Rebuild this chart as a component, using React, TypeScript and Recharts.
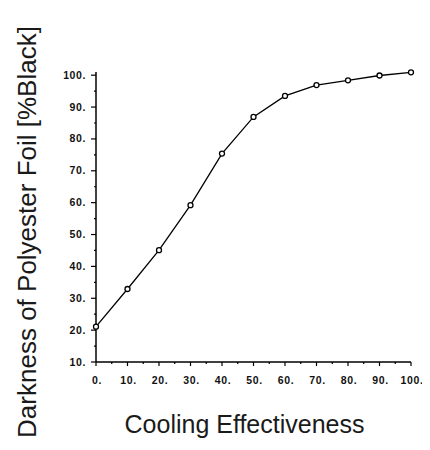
import { LineChart, Line, XAxis, YAxis, Label } from "recharts";

const effectiveness = [0, 10, 20, 30, 40, 50, 60, 70, 80, 90, 100];
const darkness = [21.1, 32.9, 45.1, 59.2, 75.4, 86.9, 93.5, 96.9, 98.4, 99.9, 100.9];
const xTicks = [0, 5, 10, 15, 20, 25, 30, 35, 40, 45, 50, 55, 60, 65, 70, 75, 80, 85, 90, 95, 100];
const yTicks = [10, 15, 20, 25, 30, 35, 40, 45, 50, 55, 60, 65, 70, 75, 80, 85, 90, 95, 100];

const data = effectiveness.map((x, i) => ({ x, y: darkness[i] }));

const FONT = "'Liberation Sans', Arial, Helvetica, sans-serif";

function XTick(props: any) {
  const { x, y, payload } = props;
  const major = payload.value % 10 === 0;
  return (
    <g>
      <line x1={x} y1={y} x2={x} y2={y + (major ? 4 : 2)} stroke="#000" strokeWidth={1.2} />
      {major && (
        <text
          x={x + 1}
          y={y + 22}
          textAnchor="middle"
          fontFamily={FONT}
          fontWeight="bold"
          fontSize={10.5}
          letterSpacing={0.6}
          fill="#111"
        >
          {payload.value + "."}
        </text>
      )}
    </g>
  );
}

function YTick(props: any) {
  const { x, y, payload } = props;
  const major = payload.value % 10 === 0;
  return (
    <g>
      <line x1={x} y1={y} x2={x - (major ? 5 : 2)} y2={y} stroke="#000" strokeWidth={1.2} />
      {major && (
        <text
          x={x - 10}
          y={y + 3.5}
          textAnchor="end"
          fontFamily={FONT}
          fontWeight="bold"
          fontSize={10.5}
          letterSpacing={0.6}
          fill="#111"
        >
          {payload.value + "."}
        </text>
      )}
    </g>
  );
}

export default function App() {
  return (
    <LineChart
      width={422}
      height={442}
      data={data}
      margin={{ top: 64, right: 19, left: 0, bottom: 0 }}
      style={{ background: "#fff" }}
    >
      <XAxis
        dataKey="x"
        type="number"
        domain={[0, 100]}
        ticks={xTicks}
        interval={0}
        height={88}
        tickSize={0}
        tickMargin={0}
        tickLine={false}
        tick={<XTick />}
        axisLine={{ stroke: "#000", strokeWidth: 1.5 }}
      >
        <Label
          content={(p: any) => (
            <text
              x={p.viewBox.x + p.viewBox.width / 2 - 9}
              y={p.viewBox.y + 71}
              textAnchor="middle"
              fontFamily={FONT}
              fontSize={25}
              fill="#1a1a1a"
            >
              Cooling Effectiveness
            </text>
          )}
        />
      </XAxis>
      <YAxis
        type="number"
        domain={[10, 101]}
        ticks={yTicks}
        interval={0}
        width={88}
        tickSize={0}
        tickMargin={0}
        tickLine={false}
        tick={<YTick />}
        axisLine={{ stroke: "#000", strokeWidth: 1.5 }}
      >
        <Label
          content={(p: any) => {
            const cx = 28;
            const cy = p.viewBox.y + p.viewBox.height / 2 + 15;
            return (
              <text
                x={cx}
                y={cy}
                transform={`rotate(-90, ${cx}, ${cy})`}
                textAnchor="middle"
                fontFamily={FONT}
                fontSize={26}
                fill="#1a1a1a"
              >
                Darkness of Polyester Foil [%Black]
              </text>
            );
          }}
        />
      </YAxis>
      <Line
        dataKey="y"
        type="linear"
        stroke="#000"
        strokeWidth={1.3}
        dot={{ r: 2.5, fill: "#fff", stroke: "#000", strokeWidth: 1.3 }}
        isAnimationActive={false}
      />
    </LineChart>
  );
}
